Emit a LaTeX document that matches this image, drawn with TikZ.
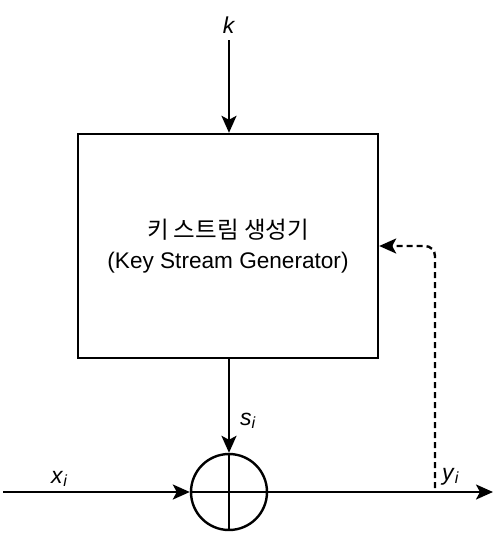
\documentclass[tikz,border=0pt]{standalone}
\usepackage{fontspec}
\setmainfont{Liberation Sans}
\newfontfamily\krfont{Noto Sans CJK KR}
\usetikzlibrary{arrows.meta}
\newcommand\lbl[2]{\textit{#1}\textsubscript{\textit{#2}}}
\begin{document}
\begin{tikzpicture}[x=1pt,y=-1pt,
  line/.style={line width=2.4pt},
  arr/.style={line, -{Stealth[length=17pt,width=15pt,inset=4pt]}},
  lab/.style={font=\fontsize{23}{27}\selectfont, inner sep=0pt}]
\useasboundingbox (0,0) rectangle (495,539);
\node[line, draw, minimum width=300pt, minimum height=224pt, inner sep=0pt,
  align=center, font=\fontsize{22.6}{30}\selectfont] (box) at (228,246)
  {{\krfont\fontsize{23.5}{30}\selectfont 키 스트림 생성기}\\(Key Stream Generator)};
\node[line, draw, circle, minimum size=76pt, inner sep=0pt] (xor) at (229,492) {};
\draw[line] (xor.north) -- (xor.south) (xor.west) -- (xor.east);
\coordinate (kin) at (229,40);
\coordinate (xin) at (3,492);
\coordinate (yout) at (493,492);
\coordinate (tap) at (435,488);
\draw[arr] (kin) -- (kin |- box.north);
\draw[arr] (box.south -| xor.north) -- (xor.north);
\draw[arr] (xin) -- (xor.west);
\draw[arr] (xor.east) -- (yout);
\draw[arr, dash pattern=on 6pt off 4pt, rounded corners=10pt] (tap) |- (box.east);
\node[lab] (k) at (229,25) {\textit{k}};
\node[lab, anchor=base west] (s) at (240,425) {\lbl{s}{i}};
\node[lab, anchor=base west] (x) at (51,483) {\lbl{x}{i}};
\node[lab, anchor=base west] (y) at (442,480) {\lbl{y}{i}};
\end{tikzpicture}
\end{document}
